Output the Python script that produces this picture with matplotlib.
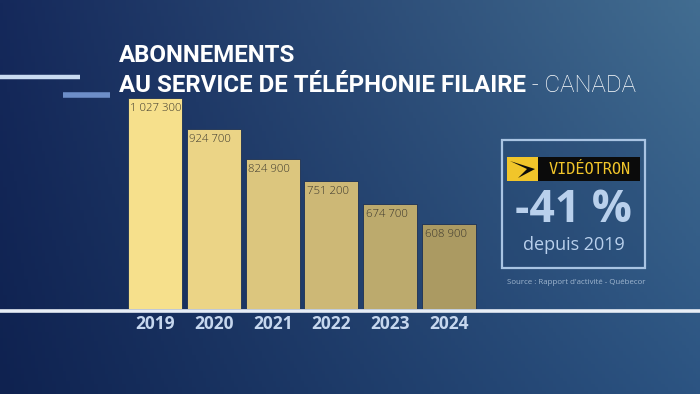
import numpy as np
import matplotlib
matplotlib.use("Agg")
import matplotlib.pyplot as plt
from matplotlib.patches import Rectangle, Polygon
from matplotlib.lines import Line2D

# data
years = ["2019", "2020", "2021", "2022", "2023", "2024"]
subs = [1027300, 924700, 824900, 751200, 674700, 608900]
labels = ["1 027 300", "924 700", "824 900", "751 200", "674 700", "608 900"]
bar_colors = ["#f6e08c", "#ebd486", "#dcc67e", "#cdb876", "#bcaa6d", "#ab9a62"]

W, H = 700, 394
fig = plt.figure(figsize=(W / 100, H / 100), dpi=100)

def fx(px):
    return px / W

def fy(py):
    return 1 - py / H

# background gradient
bg = fig.add_axes([0, 0, 1, 1], zorder=0)
tl = np.array([0x15, 0x29, 0x5b]) / 255
tr = np.array([0x42, 0x6d, 0x91]) / 255
bl = np.array([0x0f, 0x22, 0x50]) / 255
br = np.array([0x2c, 0x54, 0x82]) / 255
u = np.linspace(0, 1, 200)[None, :, None]
v = np.linspace(0, 1, 120)[:, None, None]
img = (1 - v) * ((1 - u) * tl + u * tr) + v * ((1 - u) * bl + u * br)
bg.imshow(img, aspect="auto", extent=[0, 1, 0, 1], origin="upper")
bg.set_xlim(0, 1)
bg.set_ylim(0, 1)
bg.axis("off")

# decorative lines on the left
fig.add_artist(Line2D([0, fx(80)], [fy(76.5), fy(76.5)], color="#c9dbf1", lw=3.2, solid_capstyle="butt"))
fig.add_artist(Line2D([fx(63), fx(110)], [fy(94.5), fy(94.5)], color="#6d8ec8", lw=4, solid_capstyle="butt"))

# title
fig.text(fx(119), fy(55), "ABONNEMENTS", color="white", fontsize=17.3,
         fontweight="bold", family="Roboto", va="center", ha="left")
t2 = fig.text(fx(119), fy(85), "AU SERVICE DE TÉLÉPHONIE FILAIRE", color="white",
              fontsize=17.3, fontweight="bold", family="Roboto", va="center", ha="left")
plt.annotate(" - CANADA", xy=(1, 0), xycoords=t2, ha="left", va="bottom",
             color="white", fontsize=17.3, family="Roboto", fontweight="light")

# bars
ax = fig.add_axes([fx(120), fy(309), fx(370), (309 - 90) / H], zorder=2)
ax.set_facecolor("none")
x = np.arange(len(years))
ax.bar(x, subs, width=0.918, color=bar_colors, edgecolor="#1a2f55", linewidth=0.6)
ax.set_xlim(-0.595, 5.697)
ax.set_ylim(326500, 1054000)
for i in range(len(years)):
    ax.annotate(labels[i], xy=(x[i] - 0.459, subs[i]), xytext=(1.8, -3.5),
                textcoords="offset points", ha="left", va="top",
                fontsize=8.2, color="#3d392e", family="Open Sans", fontweight="light")
    ax.annotate(years[i], xy=(x[i], 326500), xytext=(0, -10.5), textcoords="offset points",
                ha="center", va="center", fontsize=12.5, fontweight="bold",
                color="#c6d7ee", family="Open Sans", annotation_clip=False)
ax.axis("off")

# baseline
fig.add_artist(Line2D([0, 1], [fy(310.8), fy(310.8)], color="#e8eef6", lw=2.6, zorder=3))

# box with logo
fig.add_artist(Rectangle((fx(502), fy(268)), fx(143), (268 - 140) / H, facecolor="#1f3f6a",
                         alpha=0.25, edgecolor="none", transform=fig.transFigure))
fig.add_artist(Rectangle((fx(502), fy(268)), fx(143), (268 - 140) / H, facecolor="none",
                         edgecolor="#a9c4e3", lw=1.6, transform=fig.transFigure))
fig.add_artist(Rectangle((fx(507), fy(181)), fx(133), (181 - 157) / H, facecolor="#0b0b0b",
                         edgecolor="none", transform=fig.transFigure))
fig.add_artist(Rectangle((fx(507), fy(181)), fx(31), (181 - 157) / H, facecolor="#f1c52a",
                         edgecolor="none", transform=fig.transFigure))
chev = [(510, 161), (535, 169), (518, 178), (527, 169)]
fig.add_artist(Polygon([(fx(a), fy(b)) for a, b in chev], closed=True, facecolor="#0b0b0b",
                       edgecolor="none", transform=fig.transFigure))
fig.text(fx(590), fy(169.5), "VIDÉOTRON", color="#f1c52a", fontsize=11, fontweight="normal",
         family="DejaVu Sans Mono", ha="center", va="center")

fig.text(fx(573), fy(211), "-41 %", color="#b9d0ec", fontsize=32, fontweight="bold",
         family="Open Sans", ha="center", va="center")
fig.text(fx(574), fy(245), "depuis 2019", color="#b9d0ec", fontsize=13,
         family="Open Sans", ha="center", va="center")
fig.text(fx(576), fy(283), "Source : Rapport d'activité - Québecor", color="#9fb6cf",
         fontsize=5.7, family="Open Sans", ha="center", va="center")

fig.savefig("out.png", dpi=100)
